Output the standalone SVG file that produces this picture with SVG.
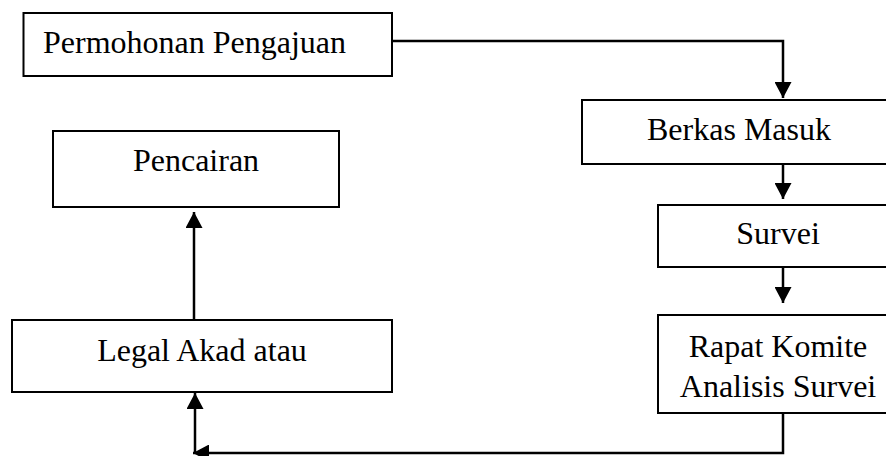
<svg xmlns="http://www.w3.org/2000/svg" width="886" height="456" viewBox="0 0 886 456">
  <style>
    .box { fill: #ffffff; stroke: #000000; stroke-width: 2; }
    .label { font-family: "Liberation Serif", "Times New Roman", serif; font-size: 32px; fill: #000000; }
    .mid { text-anchor: middle; }
    .edge { fill: none; stroke: #000000; stroke-width: 2.5; }
  </style>
  <defs>
    <marker id="arrow" markerUnits="userSpaceOnUse" markerWidth="16" markerHeight="17" refX="16" refY="8.5" orient="auto">
      <path d="M0,0 L16,8.5 L0,17 Z" fill="#000000"/>
    </marker>
  </defs>

  <rect width="886" height="456" fill="#ffffff"/>

  <g id="connectors">
    <path class="edge" d="M392,41 H783 V98" marker-end="url(#arrow)"/>
    <path class="edge" d="M783,164 V199" marker-end="url(#arrow)"/>
    <path class="edge" d="M783,267 V303" marker-end="url(#arrow)"/>
    <path class="edge" d="M783,413 V453 H193" marker-end="url(#arrow)"/>
    <path class="edge" d="M195,454 V393" marker-end="url(#arrow)"/>
    <path class="edge" d="M194,320 V212" marker-end="url(#arrow)"/>
  </g>

  <g id="permohonan-pengajuan">
    <rect class="box" x="23.5" y="13" width="368.5" height="63"/>
    <text class="label" x="43" y="53">Permohonan Pengajuan</text>
  </g>

  <g id="berkas-masuk">
    <rect class="box" x="582" y="100" width="316" height="64"/>
    <text class="label mid" x="739" y="140">Berkas Masuk</text>
  </g>

  <g id="survei">
    <rect class="box" x="658" y="205" width="240" height="62"/>
    <text class="label mid" x="778" y="244">Survei</text>
  </g>

  <g id="rapat-komite">
    <rect class="box" x="658" y="315" width="240" height="98"/>
    <text class="label mid" x="778" y="357">Rapat Komite</text>
    <text class="label mid" x="778" y="397">Analisis Survei</text>
  </g>

  <g id="legal-akad">
    <rect class="box" x="12" y="320" width="380" height="72"/>
    <text class="label mid" x="202" y="361">Legal Akad atau</text>
  </g>

  <g id="pencairan">
    <rect class="box" x="53" y="131" width="286" height="76"/>
    <text class="label mid" x="196" y="171">Pencairan</text>
  </g>
</svg>
